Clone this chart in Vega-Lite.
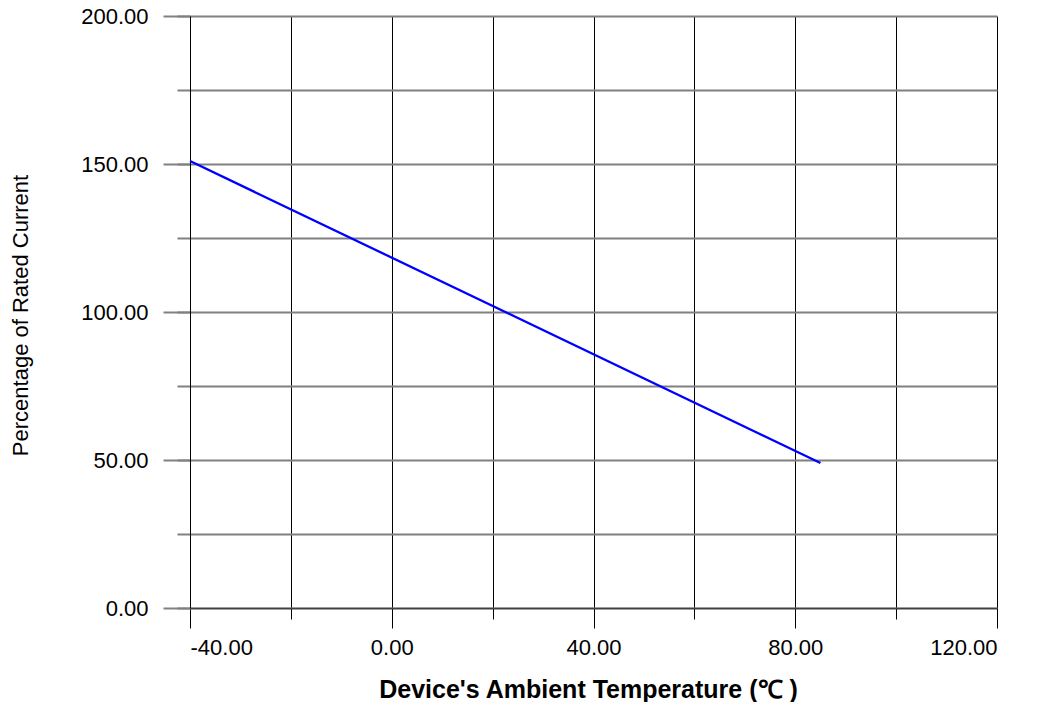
{
  "$schema": "https://vega.github.io/schema/vega-lite/v6.json",
  "width": 807,
  "height": 592,
  "autosize": "none",
  "padding": {"left": 190, "top": 16, "right": 40, "bottom": 94},
  "background": "white",
  "config": {"view": {"stroke": null}, "font": "Liberation Sans"},
  "data": {"values": [{"t": -40, "p": 151}, {"t": 85, "p": 49}]},
  "layer": [
    {
      "mark": {"type": "line", "color": "#0000FF", "strokeWidth": 2.3, "clip": false},
      "encoding": {
        "x": {
          "field": "t", "type": "quantitative",
          "scale": {"domain": [-40, 120], "nice": false, "zero": false},
          "axis": {
            "orient": "bottom",
            "values": [-40, -20, 0, 20, 40, 60, 80, 100, 120],
            "grid": true, "gridColor": "#000000", "gridWidth": 1, "gridOpacity": 1,
            "ticks": true, "tickColor": "#000000", "tickSize": 11, "tickWidth": 1,
            "labels": false, "domain": false, "title": null
          }
        },
        "y": {
          "field": "p", "type": "quantitative",
          "scale": {"domain": [0, 200], "nice": false, "zero": false},
          "axis": {
            "orient": "left",
            "values": [0, 25, 50, 75, 100, 125, 150, 175, 200],
            "grid": true, "gridColor": "#808080", "gridWidth": 2, "gridOpacity": 1,
            "ticks": true, "tickColor": "#808080", "tickSize": 13, "tickWidth": 2,
            "labels": false, "domain": false, "title": null
          }
        }
      }
    },
    {
      "mark": {"type": "line", "opacity": 0},
      "encoding": {
        "x": {
          "field": "t", "type": "quantitative",
          "axis": {
            "orient": "bottom",
            "values": [-40, 0, 40, 80, 120],
            "labelExpr": "datum.value < 0 ? '-' + format(-datum.value, '.2f') : format(datum.value, '.2f')",
            "grid": false,
            "ticks": true, "tickColor": "#000000", "tickSize": 20, "tickWidth": 1,
            "domain": true, "domainColor": "#404040", "domainWidth": 1.5,
            "labels": true, "labelFontSize": 22, "labelColor": "#000000", "labelPadding": 9,
            "labelFont": "Liberation Sans",
            "title": "Device's Ambient Temperature (℃ )",
            "titleFont": "Liberation Sans", "titleFontSize": 25, "titleFontWeight": "bold",
            "titleColor": "#000000", "titleBaseline": "alphabetic", "titleY": 89, "titleX": 398
          }
        },
        "y": {
          "field": "p", "type": "quantitative",
          "axis": {
            "orient": "left",
            "values": [0, 50, 100, 150, 200],
            "format": ".2f",
            "grid": false,
            "ticks": true, "tickColor": "#808080", "tickSize": 27, "tickWidth": 2,
            "domain": true, "domainColor": "#000000", "domainWidth": 1,
            "labels": true, "labelFontSize": 22, "labelColor": "#000000", "labelPadding": 15,
            "labelFont": "Liberation Sans",
            "title": "Percentage of Rated Current",
            "titleFont": "Liberation Sans", "titleFontSize": 22, "titleFontWeight": "normal",
            "titleColor": "#000000", "titleAngle": -90, "titleAlign": "center",
            "titleBaseline": "middle", "titleX": -170, "titleY": 299
          }
        }
      }
    }
  ],
  "resolve": {"axis": {"x": "independent", "y": "independent"}}
}
